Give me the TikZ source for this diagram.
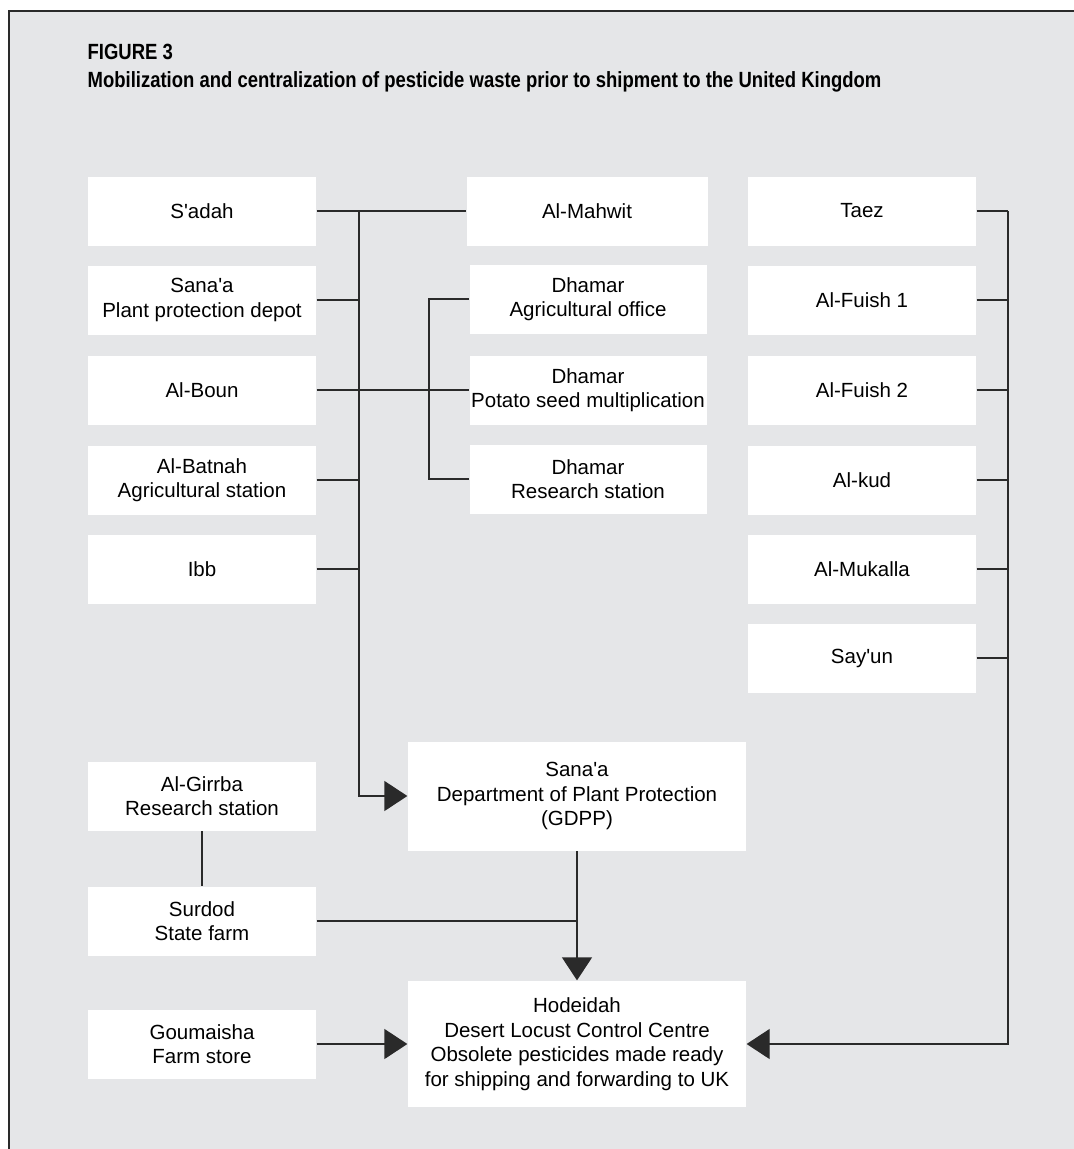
\documentclass[tikz,border=0pt]{standalone}
\usepackage{fontspec}
\setmainfont{Liberation Sans}
\newfontfamily\titlefont[FakeStretch=0.84]{Liberation Sans}
\usetikzlibrary{arrows.meta}

\definecolor{panel}{HTML}{E5E6E8}
\definecolor{ink}{HTML}{2A2A2A}

\begin{document}
\begin{tikzpicture}[
    x = 1pt, y = -1pt,
    line width = 1.3pt,
    >={Triangle[length = 23pt, width = 30pt]},
    place/.style = {fill = white,
      minimum width = 228pt,
      minimum height = 69pt,
      inner sep = 0pt,
      align = center,
      font = \fontsize{20.5}{24.5}\selectfont},
    dhamar/.style = {place, minimum width = 237pt},
    centre/.style = {place, minimum width = 338pt, minimum height = 109pt},
    heading/.style = {anchor = base west, inner sep = 0pt,
      font = \titlefont\bfseries\fontsize{22}{26}\selectfont}
    ]
    \useasboundingbox (0, 0) rectangle (1074, 1149);
    \fill [white] (0, 0) rectangle (1074, 1149);
    \fill [panel] (9, 11) rectangle (1074, 1149);
    \draw [ink, line width = 1.5pt] (9, 1149) -- (9, 11) -- (1074, 11);

    \node at (87, 59) [heading, name = fig] {FIGURE 3};
    \node at (87, 87) [heading, name = caption]
    {Mobilization and centralization of pesticide waste prior to shipment to the United Kingdom};

    \node at (202, 211) [place, name = sadah] {S\textquotesingle adah};
    \node at (202, 300) [place, name = sanaa] {Sana\textquotesingle a\\Plant protection depot};
    \node at (202, 390) [place, name = boun] {Al-Boun};
    \node at (202, 480) [place, name = batnah] {Al-Batnah\\Agricultural station};
    \node at (202, 569) [place, name = ibb] {Ibb};

    \node at (587, 211) [place, minimum width = 241pt, name = mahwit] {Al-Mahwit};
    \node at (588, 299) [dhamar, name = office] {Dhamar\\Agricultural office};
    \node at (588, 390) [dhamar, name = potato] {Dhamar\\Potato seed multiplication};
    \node at (588, 479) [dhamar, name = research] {Dhamar\\Research station};

    \node at (862, 211) [place, name = taez] {Taez};
    \node at (862, 300) [place, name = fuishA] {Al-Fuish 1};
    \node at (862, 390) [place, name = fuishB] {Al-Fuish 2};
    \node at (862, 480) [place, name = kud] {Al-kud};
    \node at (862, 569) [place, name = mukalla] {Al-Mukalla};
    \node at (862, 658) [place, name = sayun] {Say\textquotesingle un};

    \node at (202, 796) [place, name = girrba] {Al-Girrba\\Research station};
    \node at (202, 921) [place, name = surdod] {Surdod\\State farm};
    \node at (202, 1044) [place, name = goumaisha] {Goumaisha\\Farm store};

    \node at (577, 796) [centre, name = gdpp]
    {Sana\textquotesingle a\\Department of Plant Protection\\(GDPP)};
    \node at (577, 1044) [centre, minimum height = 126pt, name = hodeidah]
    {Hodeidah\\Desert Locust Control Centre\\Obsolete pesticides made ready\\for shipping and forwarding to UK};

    \coordinate (ltop) at (359, 211);
    \coordinate (dtop) at (429, 299);
    \coordinate (dbottom) at (429, 479);
    \coordinate (rtop) at (1008, 211);

    \draw [ink] (sadah) to (mahwit);
    \draw [ink] (sanaa) to (sanaa -| ltop);
    \draw [ink] (boun) to (potato);
    \draw [ink] (batnah) to (batnah -| ltop);
    \draw [ink] (ibb) to (ibb -| ltop);
    \draw [ink, ->] (ltop) |- (gdpp);

    \draw [ink] (office) -- (dtop) -- (dbottom) -- (research);

    \draw [ink] (taez) to (rtop);
    \draw [ink] (fuishA) to (fuishA -| rtop);
    \draw [ink] (fuishB) to (fuishB -| rtop);
    \draw [ink] (kud) to (kud -| rtop);
    \draw [ink] (mukalla) to (mukalla -| rtop);
    \draw [ink] (sayun) to (sayun -| rtop);
    \draw [ink, ->] (rtop) |- (hodeidah);

    \draw [ink] (girrba) to (surdod);
    \draw [ink] (surdod) to (surdod -| gdpp);
    \draw [ink, ->] (gdpp) to (hodeidah);
    \draw [ink, ->] (goumaisha) to (hodeidah);
  \end{tikzpicture}
\end{document}
